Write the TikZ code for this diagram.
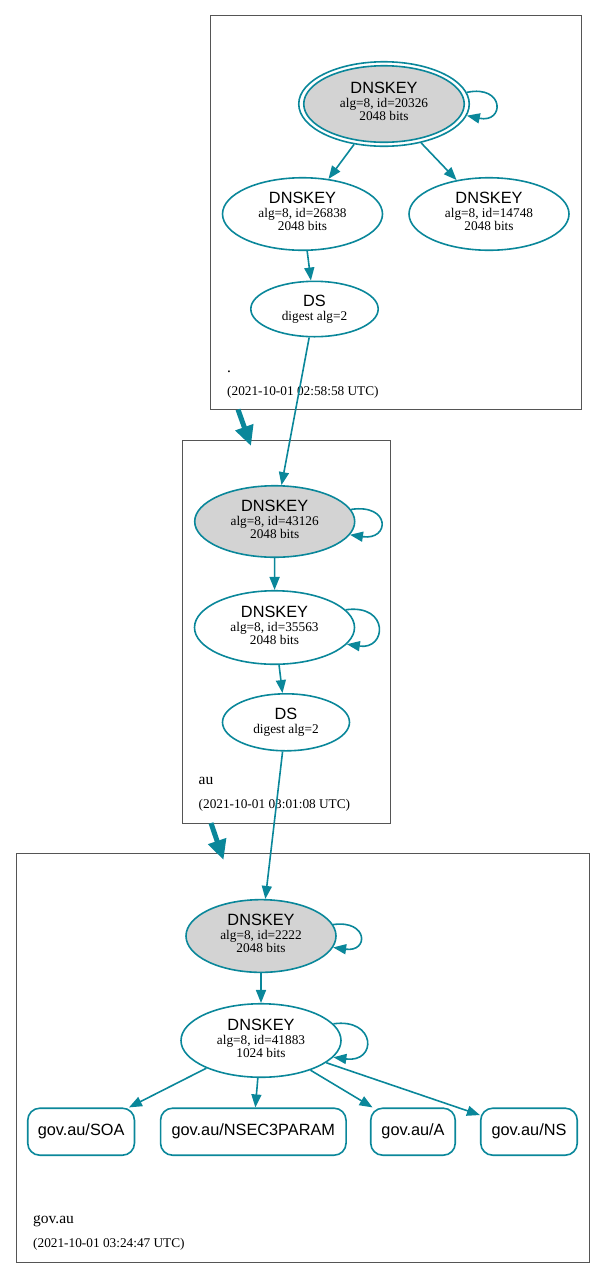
\documentclass[tikz,border=0pt]{standalone}
\usepackage{fontspec}
\setmainfont{Liberation Serif}
\setsansfont{Liberation Sans}
\usetikzlibrary{shapes.geometric,arrows.meta}
\definecolor{dnsteal}{HTML}{0A879A}
\definecolor{keygray}{HTML}{D3D3D3}
\definecolor{zonegray}{HTML}{555555}
\newcommand\kserif{\fontsize{13.3}{12}\selectfont}
\newcommand\ksans{\sffamily\fontsize{16.3}{16}\selectfont}
\newcommand\zname{\fontsize{15.5}{16}\selectfont}
\newcommand\ztime{\fontsize{13.3}{14}\selectfont}
\newcommand\keytext[2]{{\ksans DNSKEY}\\[2pt]alg=8, id=#1\\#2 bits}
\newcommand\dstext{{\ksans DS}\\[1.5pt]digest alg=2}
\begin{document}
\begin{tikzpicture}[x=1pt,y=-1pt,
  key/.style={ellipse, draw=dnsteal, line width=1.6pt, inner sep=0pt, align=center, font=\kserif, text depth=5pt},
  ksk/.style={key, fill=keygray},
  dsnode/.style={ellipse, draw=dnsteal, line width=1.6pt, inner sep=0pt, align=center, font=\kserif},
  rrset/.style={rectangle, rounded corners=12pt, draw=dnsteal, line width=1.6pt, inner sep=0pt, font=\ksans, minimum height=47pt},
  edge/.style={draw=dnsteal, line width=1.6pt, -{Triangle[length=13pt,width=10pt]}},
  deleg/.style={draw=dnsteal, line width=5pt, -{Triangle[length=20pt,width=18pt]}},
  zone/.style={draw=zonegray, line width=0.8pt, rectangle, inner sep=0pt, anchor=north west},
  zlabel/.style={anchor=base west, inner sep=0pt, font=\zname},
  ztstamp/.style={anchor=base west, inner sep=0pt, font=\ztime}]
\useasboundingbox (0,0) rectangle (605,1278);

% zones
\node[zone, minimum width=371pt, minimum height=394pt] (box1) at (210,15) {};
\node[zone, minimum width=208pt, minimum height=383pt] (box2) at (182,440) {};
\node[zone, minimum width=573pt, minimum height=409pt] (box3) at (16,853) {};

\node[zlabel] (n1) at (227,372) {.};
\node[ztstamp] (t1) at (227,395) {(2021-10-01 02:58:58 UTC)};
\node[zlabel] (n2) at (198.5,784) {au};
\node[ztstamp] (t2) at (198.5,808) {(2021-10-01 03:01:08 UTC)};
\node[zlabel] (n3) at (33,1223) {gov.au};
\node[ztstamp] (t3) at (33,1247.5) {(2021-10-01 03:24:47 UTC)};

% root zone
\node[ellipse, draw=dnsteal, line width=1.6pt, minimum width=170.5pt, minimum height=84.5pt, inner sep=0pt] (r1) at (384,104) {};
\node[ksk, minimum width=160.5pt, minimum height=76.5pt] (r1in) at (384,104) {\keytext{20326}{2048}};
\node[key, minimum width=160pt, minimum height=72.5pt] (r2) at (302.5,214) {\keytext{26838}{2048}};
\node[key, minimum width=160pt, minimum height=72.5pt] (r3) at (489,214) {\keytext{14748}{2048}};
\node[dsnode, minimum width=127.4pt, minimum height=55.4pt] (rds) at (314.5,309) {\dstext};

% au zone
\node[ksk, minimum width=160pt, minimum height=71.5pt] (a1) at (274.7,521.5) {\keytext{43126}{2048}};
\node[key, minimum width=160pt, minimum height=73.5pt] (a2) at (274.5,627.5) {\keytext{35563}{2048}};
\node[dsnode, minimum width=127pt, minimum height=57pt] (ads) at (286,722.3) {\dstext};

% gov.au zone
\node[ksk, minimum width=150pt, minimum height=72.7pt] (g1) at (261,936) {\keytext{2222}{2048}};
\node[key, minimum width=160pt, minimum height=73.5pt] (g2) at (261,1040.5) {\keytext{41883}{1024}};
\node[rrset, minimum width=106.7pt] (soa) at (81.1,1131.7) {gov.au/SOA};
\node[rrset, minimum width=185.5pt] (nsec) at (253.3,1131.7) {gov.au/NSEC3PARAM};
\node[rrset, minimum width=84.5pt] (arr) at (413,1131.7) {gov.au/A};
\node[rrset, minimum width=96.5pt] (ns) at (529,1131.7) {gov.au/NS};

% edges
\draw[edge] (r1.8) .. controls +(38,-8) and +(38,8) .. (r1.-8);
\draw[edge] (r1) -- (r2);
\draw[edge] (r1) -- (r3);
\draw[edge] (r2) -- (rds);
\draw[edge] (rds) -- (a1);
\draw[edge] (a1.9) .. controls +(40,-6) and +(40,6) .. (a1.-10);
\draw[edge] (a1) -- (a2);
\draw[edge] (a2.14) .. controls +(44,-6) and +(40,6) .. (a2.-13);
\draw[edge] (a2) -- (ads);
\draw[edge] (ads) -- (g1);
\draw[edge] (g1.9) .. controls +(35,-5) and +(36,5) .. (g1.-9);
\draw[edge] (g1) -- (g2);
\draw[edge] (g2.13) .. controls +(43,-6) and +(44,6) .. (g2.-13);
\draw[edge] (g2) -- (soa);
\draw[edge] (g2) -- (nsec);
\draw[edge] (g2) -- (arr);
\draw[edge] (g2) -- (ns);

% delegations
\coordinate (d1s) at (238,409.5);
\coordinate (d1e) at (251,446);
\coordinate (d2s) at (211,823);
\coordinate (d2e) at (223.5,860);
\draw[deleg] (d1s) -- (d1e);
\draw[deleg] (d2s) -- (d2e);
\end{tikzpicture}
\end{document}
